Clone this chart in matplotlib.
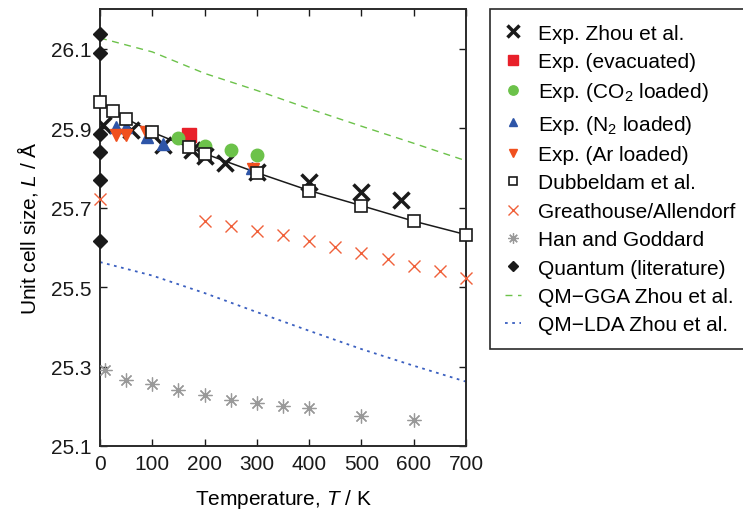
import matplotlib
matplotlib.use("Agg")
import matplotlib.pyplot as plt

plt.rcParams["font.family"] = ["Liberation Sans", "DejaVu Sans"]
plt.rcParams["mathtext.fontset"] = "custom"
plt.rcParams["mathtext.rm"] = "Liberation Sans"
plt.rcParams["mathtext.it"] = "Liberation Sans:italic"

# Exp. Zhou et al.
zhou_T = [5, 60, 120, 175, 200, 240, 300, 400, 500, 575]
zhou_L = [25.907, 25.895, 25.857, 25.844, 25.831, 25.813, 25.790, 25.765, 25.739, 25.719]

# Exp. (evacuated)
evac_T = [170]
evac_L = [25.882]

# Exp. (CO2 loaded)
co2_T = [150, 200, 250, 300]
co2_L = [25.875, 25.856, 25.846, 25.833]

# Exp. (N2 loaded)
n2_T = [30, 50, 90, 120, 290]
n2_L = [25.903, 25.903, 25.878, 25.861, 25.800]

# Exp. (Ar loaded)
ar_T = [30, 50, 88, 292]
ar_L = [25.882, 25.882, 25.890, 25.798]

# Dubbeldam et al.
dub_T = [0, 25, 50, 100, 170, 200, 300, 400, 500, 600, 700]
dub_L = [25.966, 25.943, 25.924, 25.890, 25.852, 25.836, 25.788, 25.743, 25.705, 25.666, 25.632]

# Greathouse/Allendorf
gre_T = [0, 200, 250, 300, 350, 400, 450, 500, 550, 600, 650, 700]
gre_L = [25.722, 25.667, 25.655, 25.642, 25.630, 25.617, 25.601, 25.585, 25.571, 25.553, 25.540, 25.522]

# Han and Goddard
han_T = [10, 50, 100, 150, 200, 250, 300, 350, 400, 500, 600]
han_L = [25.292, 25.267, 25.256, 25.242, 25.228, 25.217, 25.208, 25.201, 25.196, 25.176, 25.165]

# Quantum (literature)
qua_T = [0, 0, 0, 0, 0, 0]
qua_L = [26.138, 26.089, 25.886, 25.841, 25.770, 25.616]

# QM-GGA / QM-LDA Zhou et al.
qm_T = [0, 100, 200, 300, 400, 500, 600, 700]
gga_L = [26.127, 26.092, 26.038, 25.995, 25.949, 25.905, 25.862, 25.818]
lda_L = [25.563, 25.529, 25.485, 25.437, 25.390, 25.344, 25.302, 25.262]

fs = 15

fig = plt.figure(figsize=(7.43, 5.10), dpi=100)
ax = fig.add_axes([100 / 743, 1 - 447 / 510, 366 / 743, 437 / 510])

h_gga, = ax.plot(qm_T, gga_L, "--", color="#6cc24a", lw=1, dashes=(5, 4), zorder=1)
h_lda, = ax.plot(qm_T, lda_L, ":", color="#3a5fc0", lw=1.3, dashes=(1.5, 2.5), zorder=1)
ax.plot(dub_T, dub_L, "-", color="#1a1a1a", lw=1.1, zorder=2)

h_zhou, = ax.plot(zhou_T, zhou_L, "x", color="#1a1a1a", ms=11, mew=2.5, ls="none", zorder=3)
h_evac, = ax.plot(evac_T, evac_L, "s", color="#e8202a", ms=10, ls="none", zorder=4)
h_co2, = ax.plot(co2_T, co2_L, "o", color="#6cc24a", ms=9, ls="none", zorder=4)
h_n2, = ax.plot(n2_T, n2_L, "^", color="#2e55a8", ms=8, ls="none", zorder=4)
h_ar, = ax.plot(ar_T, ar_L, "v", color="#f0501e", ms=8, ls="none", zorder=4)
h_dub, = ax.plot(dub_T, dub_L, "s", mfc="white", mec="#1a1a1a", ms=8, mew=1.2, ls="none",
                 zorder=5, clip_on=False)
h_gre, = ax.plot(gre_T, gre_L, "x", color="#f0603a", ms=9, mew=1.0, ls="none", zorder=3,
                 clip_on=False)
h_han, = ax.plot(han_T, han_L, marker=(8, 2, 0), color="#999999", ms=10, mew=0.9, ls="none",
                 zorder=3)
h_qua, = ax.plot(qua_T, qua_L, "D", color="#1a1a1a", ms=7, ls="none", zorder=6, clip_on=False)

ax.set_xlim(0, 700)
ax.set_ylim(25.1, 26.2)
ax.set_xticks(range(0, 701, 100))
ax.set_yticks([25.1, 25.3, 25.5, 25.7, 25.9, 26.1])
ax.set_yticklabels(["25.1", "25.3", "25.5", "25.7", "25.9", "26.1"])
ax.tick_params(direction="in", top=True, right=True, length=5, width=1, labelsize=fs,
               colors="#1a1a1a", pad=6)
for sp in ax.spines.values():
    sp.set_linewidth(1.4)
    sp.set_color("#2a2a2a")

ax.set_xlabel("Temperature, $T$ / K", fontsize=fs, labelpad=10)
ax.set_ylabel("Unit cell size, $L$ / Å", fontsize=fs, labelpad=8)

handles = [h_zhou, h_evac, h_co2, h_n2, h_ar, h_dub, h_gre, h_han, h_qua, h_gga, h_lda]
labels = ["Exp. Zhou et al.", "Exp. (evacuated)", "Exp. (CO$_2$ loaded)",
          "Exp. (N$_2$ loaded)", "Exp. (Ar loaded)", "Dubbeldam et al.",
          "Greathouse/Allendorf", "Han and Goddard", "Quantum (literature)",
          "QM\u2212GGA Zhou et al.", "QM\u2212LDA Zhou et al."]
leg = fig.legend(handles, labels, loc="upper left", bbox_to_anchor=(490 / 743, 1 - 10 / 510),
                 fontsize=fs, markerscale=0.75, handlelength=0.8, handletextpad=0.8,
                 labelspacing=0.45, borderpad=0.7, fancybox=False, framealpha=1,
                 edgecolor="#2a2a2a", borderaxespad=0)
leg.get_frame().set_linewidth(1.2)

fig.savefig("out.png", dpi=100)
